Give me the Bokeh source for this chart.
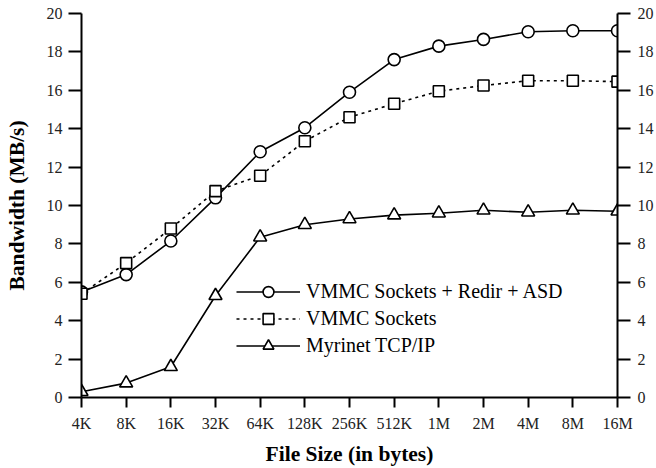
from bokeh.plotting import figure
from bokeh.models import LinearAxis, FixedTicker, Legend, LegendItem, Range1d
from bokeh.embed import file_html
from bokeh.resources import INLINE

sizes = ["4K", "8K", "16K", "32K", "64K", "128K", "256K", "512K", "1M", "2M", "4M", "8M", "16M"]
vmmc_redir_asd = [5.5, 6.4, 8.15, 10.4, 12.8, 14.05, 15.9, 17.6, 18.3, 18.65, 19.05, 19.1, 19.1]
vmmc_sockets = [5.4, 7.0, 8.8, 10.75, 11.55, 13.35, 14.6, 15.3, 15.95, 16.25, 16.5, 16.5, 16.45]
myrinet_tcp = [0.3, 0.75, 1.6, 5.3, 8.35, 9.0, 9.3, 9.5, 9.6, 9.75, 9.65, 9.75, 9.7]
y_ticks = [0, 2, 4, 6, 8, 10, 12, 14, 16, 18, 20]

xs = list(range(len(sizes)))
FONT = "'Liberation Serif', 'Times New Roman', serif"

p = figure(width=656, height=468, output_backend="svg", toolbar_location=None,
           x_range=Range1d(0, len(sizes) - 1), y_range=Range1d(0, 20),
           min_border_left=81, min_border_right=37, min_border_top=13, min_border_bottom=71)
p.outline_line_color = None
p.xgrid.visible = False
p.ygrid.visible = False
p.background_fill_color = "white"
p.border_fill_color = "white"

def style_axis(ax):
    ax.axis_line_width = 2
    ax.axis_line_color = "black"
    ax.major_tick_line_width = 2
    ax.major_tick_line_color = "black"
    ax.minor_tick_line_color = None
    ax.major_tick_in = 0
    ax.major_label_text_font = FONT
    ax.major_label_text_font_size = "16px"
    ax.major_label_text_color = "#222222"
    ax.axis_label_text_font = FONT
    ax.axis_label_text_font_style = "bold"
    ax.axis_label_text_font_size = "21.5px"
    ax.axis_label_text_color = "black"

xa = p.xaxis[0]
style_axis(xa)
xa.ticker = FixedTicker(ticks=xs)
xa.major_label_overrides = {i: s for i, s in enumerate(sizes)}
xa.major_tick_out = 10
xa.major_label_standoff = 7
xa.axis_label = "File Size (in bytes)"
xa.axis_label_standoff = 7

ya = p.yaxis[0]
style_axis(ya)
ya.ticker = FixedTicker(ticks=y_ticks)
ya.major_tick_out = 13
ya.major_label_standoff = 6
ya.axis_label = "Bandwidth (MB/s)"
ya.axis_label_standoff = 15

ry = LinearAxis(ticker=FixedTicker(ticks=y_ticks))
style_axis(ry)
ry.major_tick_out = 13
ry.major_label_standoff = 7
p.add_layout(ry, "right")

l1 = p.line(xs, vmmc_redir_asd, line_color="black", line_width=1.6)
m1 = p.scatter(xs, vmmc_redir_asd, marker="circle", size=12, fill_color="white",
               line_color="black", line_width=1.6)
l2 = p.line(xs, vmmc_sockets, line_color="black", line_width=1.6, line_dash="3 4")
m2 = p.scatter(xs, vmmc_sockets, marker="square", size=11, fill_color="white",
               line_color="black", line_width=1.6)
l3 = p.line(xs, myrinet_tcp, line_color="black", line_width=1.6)
m3 = p.scatter(xs, myrinet_tcp, marker="triangle", size=13, fill_color="white",
               line_color="black", line_width=1.6)

legend = Legend(items=[
    LegendItem(label="VMMC Sockets + Redir + ASD", renderers=[l1, m1]),
    LegendItem(label="VMMC Sockets", renderers=[l2, m2]),
    LegendItem(label="Myrinet TCP/IP", renderers=[l3, m3]),
], location=(155, 38))
legend.glyph_width = 64
legend.glyph_height = 27
legend.spacing = 0
legend.padding = 0
legend.margin = 0
legend.label_standoff = 6
legend.label_text_font = FONT
legend.label_text_font_size = "20px"
legend.label_text_color = "black"
legend.border_line_color = None
legend.background_fill_alpha = 0
p.add_layout(legend)

open("out.html", "w").write(file_html(p, INLINE))
